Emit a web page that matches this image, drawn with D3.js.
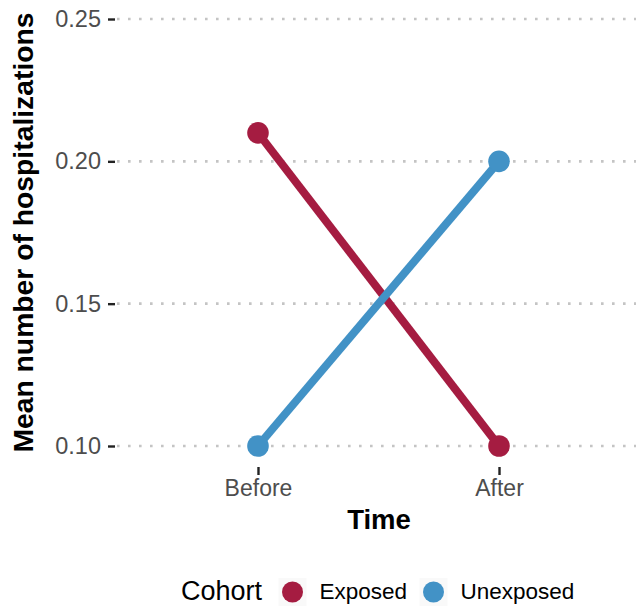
<!DOCTYPE html>
<html>
<head>
<meta charset="utf-8">
<script src="https://d3js.org/d3.v7.min.js"></script>
<style>
  body { margin: 0; background: #fff; }
  svg text { font-family: "Liberation Sans", Arial, sans-serif; }
</style>
</head>
<body>
<div id="chart"></div>
<script>
// data
const times = ["Before", "After"];
const cohorts = ["Exposed", "Unexposed"];
const exposedValues = [0.21, 0.10];
const unexposedValues = [0.10, 0.20];
const yTicks = [0.10, 0.15, 0.20, 0.25];
const colors = ["#A51C41", "#4292C6"];

const W = 641, H = 606;
const panel = { left: 115, right: 636, top: 0, bottom: 467 };

const svg = d3.select("#chart").append("svg")
  .attr("width", W).attr("height", H);

// discrete x with ggplot-like expansion (panel runs past the right edge)
const x = d3.scalePoint()
  .domain(times)
  .range([117, 640])
  .padding(0.585);

const y = d3.scaleLinear()
  .domain([0.10, 0.25])
  .range([446, 19]);

// grid
svg.append("g").selectAll("line")
  .data(yTicks).join("line")
  .attr("x1", panel.left + 2).attr("x2", panel.right)
  .attr("y1", d => y(d)).attr("y2", d => y(d))
  .attr("stroke", "#c4c4c4")
  .attr("stroke-width", 2.6)
  .attr("stroke-dasharray", "2.6,8.4");

// y axis
const yAxis = svg.append("g")
  .attr("transform", `translate(${panel.left},0)`)
  .call(d3.axisLeft(y).tickValues(yTicks).tickFormat(d3.format(".2f")).tickSize(7).tickPadding(7));
yAxis.select(".domain").remove();
yAxis.selectAll(".tick line").attr("stroke", "#222").attr("stroke-width", 2.4);
yAxis.selectAll(".tick text").attr("fill", "#4d4d4d").style("font-size", "23.5px");

// x axis
const xAxis = svg.append("g")
  .attr("transform", `translate(0,${panel.bottom})`)
  .call(d3.axisBottom(x).tickSize(8).tickPadding(5));
xAxis.select(".domain").remove();
xAxis.selectAll(".tick line").attr("stroke", "#222").attr("stroke-width", 2.4);
xAxis.selectAll(".tick text").attr("fill", "#4d4d4d").style("font-size", "23px");

// titles
svg.append("text")
  .attr("x", 379)
  .attr("y", 529)
  .attr("text-anchor", "middle")
  .style("font-size", "27.5px").style("font-weight", "bold")
  .text("Time");

svg.append("text")
  .attr("transform", "translate(33,232.5) rotate(-90)")
  .attr("text-anchor", "middle")
  .style("font-size", "28.3px").style("font-weight", "bold")
  .text("Mean number of hospitalizations");

// lines + points
const series = [
  { name: cohorts[0], values: exposedValues, color: colors[0] },
  { name: cohorts[1], values: unexposedValues, color: colors[1] }
];

const line = d3.line()
  .x((d, i) => x(times[i]))
  .y(d => y(d));

series.forEach(s => {
  svg.append("path")
    .attr("d", line(s.values))
    .attr("fill", "none")
    .attr("stroke", s.color)
    .attr("stroke-width", 8);
});
series.forEach(s => {
  svg.append("g").selectAll("circle")
    .data(s.values).join("circle")
    .attr("cx", (d, i) => x(times[i]))
    .attr("cy", d => y(d))
    .attr("r", 10.8)
    .attr("fill", s.color);
});

// legend
const leg = svg.append("g");
leg.append("text")
  .attr("x", 181).attr("y", 600)
  .style("font-size", "27px")
  .text("Cohort");

const keyX = [292.5, 433.5];
series.forEach((s, i) => {
  leg.append("rect")
    .attr("x", keyX[i] - 14).attr("y", 578)
    .attr("width", 28).attr("height", 28)
    .attr("fill", "#f9f9f9");
  leg.append("circle")
    .attr("cx", keyX[i]).attr("cy", 592)
    .attr("r", 10.5)
    .attr("fill", s.color);
  leg.append("text")
    .attr("x", keyX[i] + 27).attr("y", 599)
    .style("font-size", "22.5px")
    .text(s.name);
});
</script>
</body>
</html>
